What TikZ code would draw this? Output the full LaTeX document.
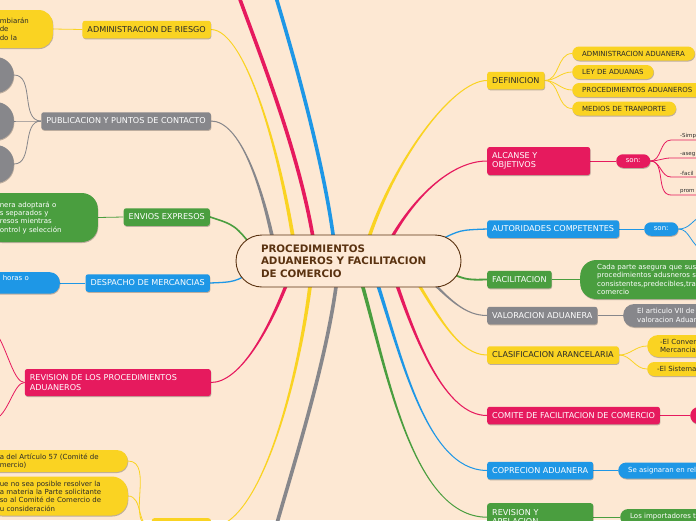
\documentclass[tikz,border=0pt]{standalone}
\usepackage{fontspec}
\setmainfont{DejaVu Sans}
\usepackage{tikz}
\usetikzlibrary{calc,shadows}

\definecolor{paper}{HTML}{FDE8D3}
\definecolor{ctrfill}{HTML}{FDE9D6}
\definecolor{brn}{HTML}{5A3210}
\definecolor{ink}{HTML}{2A2A2A}
\definecolor{ylw}{HTML}{FAD322}
\definecolor{pnk}{HTML}{E61A5E}
\definecolor{blu}{HTML}{1E97E6}
\definecolor{grn}{HTML}{4A9E3F}
\definecolor{gry}{HTML}{87878B}

\pgfdeclarelayer{paper}
\pgfdeclarelayer{links}
\pgfsetlayers{paper,links,main}

\tikzset{
    lifted/.style = {drop shadow={shadow xshift=0.5pt, shadow yshift=-1pt, opacity=0.25, fill=black}},
    centre/.style = {draw=brn, line width=0.9pt, fill=ctrfill, rounded corners=26pt, minimum width=225pt, minimum height=52pt, text width=175pt, inner xsep=25pt, align=left, text=brn, font=\bfseries\fontsize{10.3}{12.5}\selectfont},
    topic/.style = {fill=#1, rectangle, rounded corners=2.5pt, minimum height=17.5pt, inner xsep=5pt, inner ysep=2pt, text=white, font=\fontsize{8.1}{9.5}\selectfont, lifted},
    pill/.style = {fill=#1, rectangle, rounded corners=7pt, minimum height=14pt, inner xsep=10pt, inner ysep=1.5pt, text=white, align=left, font=\fontsize{7}{8.3}\selectfont, lifted},
    tag/.style = {pill=#1, minimum width=34pt, minimum height=13.5pt, inner xsep=2pt, rounded corners=6.75pt, align=center},
    leafword/.style = {anchor=south west, inner xsep=0pt, inner ysep=1.5pt, text width=20pt, align=left, text=ink, font=\fontsize{5.5}{6}\selectfont},
    twig/.style = {draw=#1, line width=0.8pt},
    bough/.style = {draw=#1, line width=3.6pt},
}

% tapered branch: colour, turn sign, start, control 1, control 2, end
\newcommand{\taper}[6]{%
  \fill[#1] ($(#3)+(-2,0)$) .. controls ($(#4)+(-1.4,0)$) and ($(#5)+(0,{-0.7*(#2)})$) .. ($(#6)+(0,{-0.5*(#2)})$)
    -- ($(#6)+(0,{0.5*(#2)})$) .. controls ($(#5)+(0,{0.7*(#2)})$) and ($(#4)+(1.4,0)$) .. ($(#3)+(2,0)$) -- cycle;}

\begin{document}
\begin{tikzpicture}[x=1pt, y=-1pt]
\useasboundingbox (0,0) rectangle (696,520);
\begin{pgfonlayer}{paper}
  \fill[paper] (0,0) rectangle (696,520);
\end{pgfonlayer}

% centre
\node[centre] (ctr) at (348.5,261) {PROCEDIMIENTOS\\ADUANEROS Y FACILITACION\\DE COMERCIO};

% left side
\node[topic=ylw, text=ink, anchor=east] (adm) at (211,29.5) {ADMINISTRACION DE RIESGO};
\node[topic=gry, anchor=east] (pub) at (211,121) {PUBLICACION Y PUNTOS DE CONTACTO};
\node[topic=grn, anchor=east] (env) at (210,217) {ENVIOS EXPRESOS};
\node[topic=blu, anchor=east] (des) at (210,283) {DESPACHO DE MERCANCIAS};
\node[topic=pnk, anchor=east, text width=176pt, align=left, minimum height=27pt] (rvp) at (211,382.5) {REVISION DE LOS PROCEDIMIENTOS\\ADUANEROS};
\node[topic=ylw, anchor=north east, minimum width=59pt, minimum height=18pt] (cmt) at (211,518) {};

\node[pill=ylw, text=ink, anchor=east, text width=39pt, inner xsep=14pt, minimum height=38pt, rounded corners=14pt] (adm-1) at (53,29) {mbiarán\\de\\do la};
\node[pill=gry, anchor=east, minimum width=40pt, minimum height=36pt, rounded corners=18pt] (pub-1) at (14,75) {};
\node[pill=gry, anchor=east, minimum width=40pt, minimum height=38pt, rounded corners=18pt] (pub-2) at (14,121) {};
\node[pill=gry, anchor=east, minimum width=40pt, minimum height=38pt, rounded corners=18pt] (pub-3) at (14,164) {};
\node[pill=grn, anchor=east, text width=84pt, inner xsep=14pt, minimum height=49pt, rounded corners=16pt] (env-1) at (98,217.5) {nera adoptará o\\s separados y\\resos mientras\\ontrol y selección};
\node[pill=blu, anchor=north east, text width=43pt, inner xsep=14pt, inner ysep=3.5pt, text height=5pt, text depth=9.5pt, rounded corners=10pt] (des-1) at (60,272) {horas o};
\coordinate (rvp-1) at (-3,334);
\coordinate (rvp-2) at (-4,419);
\node[pill=ylw, text=ink, anchor=east, text width=114pt, inner xsep=14pt, minimum height=22pt, rounded corners=11pt] (cmt-1) at (128,461) {a del Artículo 57 (Comité de\\mercio)};
\node[pill=ylw, text=ink, anchor=east, text width=114pt, inner xsep=14pt, minimum height=39pt, rounded corners=16pt] (cmt-2) at (128,496) {ue no sea posible resolver la\\a materia la Parte solicitante\\so al Comité de Comercio de\\u consideración};

% right side
\node[topic=ylw, text=ink, anchor=west] (def) at (487,80.5) {DEFINICION};
\node[topic=pnk, anchor=west, text width=93pt, align=left, minimum height=28pt] (alc) at (487,161) {ALCANSE Y\\OBJETIVOS};
\node[topic=blu, anchor=west] (aut) at (487,229) {AUTORIDADES COMPETENTES};
\node[topic=grn, anchor=west] (fac) at (487,279.5) {FACILITACION};
\node[topic=gry, anchor=west] (val) at (487,315.5) {VALORACION ADUANERA};
\node[topic=ylw, text=ink, anchor=west] (cla) at (487,355) {CLASIFICACION ARANCELARIA};
\node[topic=pnk, anchor=west] (com) at (487,415.5) {COMITE DE FACILITACION DE COMERCIO};
\node[topic=blu, anchor=west] (cop) at (487,470.5) {COPRECION ADUANERA};
\node[topic=grn, anchor=north west, text width=96pt, align=left, minimum height=28pt] (rva) at (487,503) {REVISION Y\\APELACION};

\node[pill=ylw, text=ink, anchor=west] (def-1) at (572,53.5) {ADMINISTRACION ADUANERA};
\node[pill=ylw, text=ink, anchor=west] (def-2) at (572,72) {LEY DE ADUANAS};
\node[pill=ylw, text=ink, anchor=west] (def-3) at (572,90) {PROCEDIMIENTOS ADUANEROS};
\node[pill=ylw, text=ink, anchor=west] (def-4) at (572,108.5) {MEDIOS DE TRANPORTE};

\node[tag=pnk, anchor=west] (alc-son) at (616,161) {son:};
\node[leafword] (alc-1) at (680,140) {-Simp};
\node[leafword] (alc-2) at (680,158) {-aseg};
\node[leafword] (alc-3) at (680,177) {-facil};
\node[leafword] (alc-4) at (680,195) {prom};

\node[tag=blu, anchor=west] (aut-son) at (644,229) {son:};
\coordinate (aut-1) at (704,214);
\coordinate (aut-2) at (704,251);

\node[pill=grn, anchor=west, text width=130pt, inner xsep=17pt, minimum height=39pt, rounded corners=16pt] (fac-1) at (580,279.5) {Cada parte asegura que sus\\procedimientos adusneros s\\consistentes,predecibles,tra\\comercio};
\node[pill=gry, anchor=west, text width=70pt, inner xsep=14pt, minimum height=23pt, rounded corners=11pt] (val-1) at (623,315.5) {El articulo VII de\\valoracion Aduar};
\node[pill=ylw, text=ink, anchor=west, text width=50pt, inner xsep=13pt, minimum height=22pt, rounded corners=11pt] (cla-1) at (647,346) {-El Conver\\Mercancia};
\node[pill=ylw, text=ink, anchor=west] (cla-2) at (647,369) {-El Sistema};
\node[pill=pnk, anchor=west, minimum width=20pt, minimum height=17pt, rounded corners=8.5pt] (com-1) at (690,415.5) {};
\node[pill=blu, anchor=west, minimum height=16pt, rounded corners=8pt] (cop-1) at (618,470.5) {Se asignaran en rel};
\node[pill=grn, anchor=west, minimum height=16pt, rounded corners=8pt] (rva-1) at (620,517) {Los importadores t};

\coordinate (top-pnk) at (238,-6);
\coordinate (top-blu) at (275,-6);
\coordinate (bot-gry) at (275,530);

\begin{pgfonlayer}{links}
  \foreach \n/\dx/\dy in {pub/-73.5/-11, adm/-53.5/-11, upp/-33.5/-11, upb/-13.5/-11, def/16.5/-11, alc/36.5/-11,
      aut/91.5/-21, fac/91.5/7, val/76.5/14, cla/61.5/9, com/43.5/9, cop/24.5/9, rva/9.5/9,
      dng/-10.5/9, cmt/-36.5/9, rvp/-56.5/9, env/-93.5/-11, des/-93.5/9}
    \coordinate (o-\n) at ($(ctr.center)+(\dx,\dy)$);

  % main branches
  \taper{gry}{-1}{o-pub}{262,185}{240,121}{pub.east}
  \taper{ylw}{-1}{o-adm}{280,150}{245,29.5}{adm.east}
  \draw[bough=pnk] (o-upp) .. controls (302,160) and (262,60) .. (top-pnk);
  \draw[bough=blu] (o-upb) .. controls (326,170) and (295,60) .. (top-blu);
  \taper{ylw}{1}{o-def}{390,165}{452,80.5}{def.west}
  \taper{pnk}{1}{o-alc}{410,200}{450,161}{alc.west}
  \draw[blu, line width=1.3pt] (o-aut) .. controls (460,230) .. (aut.west);
  \draw[grn, line width=1.8pt] (o-fac) .. controls (465,280) .. (fac.west);
  \taper{gry}{-1}{o-val}{450,300}{465,315.5}{val.west}
  \taper{ylw}{-1}{o-cla}{440,320}{460,355}{cla.west}
  \taper{pnk}{-1}{o-com}{415,340}{445,415.5}{com.west}
  \taper{blu}{-1}{o-cop}{400,350}{425,470.5}{cop.west}
  \taper{grn}{-1}{o-rva}{385,360}{410,517}{rva.west}
  \draw[bough=gry] (o-dng) .. controls (330,350) and (295,460) .. (bot-gry);
  \taper{ylw}{1}{o-cmt}{300,380}{260,527}{cmt.east}
  \taper{pnk}{1}{o-rvp}{270,330}{240,382.5}{rvp.east}
  \draw[grn, line width=1.6pt] (o-env) .. controls (235,225) .. (env.east);
  \draw[blu, line width=1.3pt] (o-des) .. controls (235,282) .. (des.east);

  % sub branches
  \draw[twig=ylw] (adm.west) -- (adm-1.east);
  \foreach \k in {1,2,3}
    \draw[twig=gry] (pub.west) to[out=180,in=0] (pub-\k.east);
  \draw[twig=grn] (env.west) -- (env-1.east);
  \draw[twig=blu] (des.west) -- (des-1.east |- des.west);
  \draw[twig=pnk] (rvp.west) .. controls (14,382.5) and (8,352) .. (rvp-1);
  \draw[twig=pnk] (rvp.west) .. controls (14,382.5) and (9,412) .. (rvp-2);
  \draw[twig=ylw] (cmt.west) to[out=180,in=0] (cmt-1.east);
  \draw[twig=ylw] (cmt.west) to[out=180,in=0] (cmt-2.east);

  \foreach \k in {1,...,4}
    \draw[twig=ylw] (def.east) to[out=0,in=180] (def-\k.west);
  \draw[twig=pnk] (alc.east) -- (alc-son.west);
  \foreach \k in {1,...,4}
    \draw[twig=pnk] (alc-son.east) to[out=0,in=180] ([xshift=-9pt]alc-\k.south west) -- (alc-\k.south east);
  \draw[twig=blu] (aut.east) -- (aut-son.west);
  \draw[twig=blu] (aut-son.east) .. controls (690,229) and (692,220) .. (aut-1);
  \draw[twig=blu] (aut-son.east) .. controls (690,229) and (690,245) .. (aut-2);
  \draw[twig=grn] (fac.east) -- (fac-1.west);
  \draw[twig=gry] (val.east) -- (val-1.west);
  \draw[twig=ylw] (cla.east) to[out=0,in=180] (cla-1.west);
  \draw[twig=ylw] (cla.east) to[out=0,in=180] (cla-2.west);
  \draw[twig=pnk] (com.east) -- (com-1.west);
  \draw[twig=blu] (cop.east) -- (cop-1.west);
  \draw[twig=grn] (rva-1.west -| rva.east) -- (rva-1.west);
\end{pgfonlayer}
\end{tikzpicture}
\end{document}
